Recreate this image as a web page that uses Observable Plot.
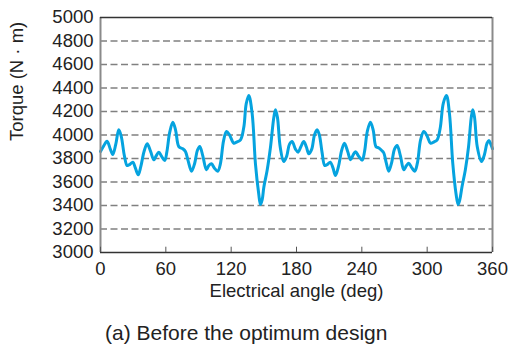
<!DOCTYPE html>
<html><head><meta charset="utf-8">
<script src="https://cdn.jsdelivr.net/npm/d3@7"></script>
<script src="https://cdn.jsdelivr.net/npm/@observablehq/plot@0.6"></script>
<style>
body{margin:0;background:#fff;font-family:"Liberation Sans",Arial,Helvetica,sans-serif;}
#wrap{position:relative;width:509px;height:347px;overflow:hidden;}
#cap{position:absolute;left:105px;top:322px;font-size:21px;color:#222;line-height:1;white-space:nowrap;}
</style>
</head><body>
<div id="wrap"><div id="chart"></div><div id="cap">(a) Before the optimum design</div></div>
<script>
const angle = [0,2.5,6,9,11.3,14,16.8,19,22,24.5,27,29.7,32,34.6,37,40,42.9,46,49,51,53.6,56,59,61,63.5,66.4,69,72,75.6,78,80.5,83.6,86.5,89,91.2,94,97.3,99.5,101.9,104.5,107.7,110,113,115.7,118.5,122.4,125,128.6,131.6,133.8,136.2,139.3,142.3,145.3,146.9,148.5,150,153,156.1,159.2,160.7,162.5,165,168.3,171,173.5,176,179,181.5,184,186.7,189,191.3,194,196.5,198.9,201,203.5,206,208.5,211,213.5,215.8,218.5,221.5,224,227,229.6,232,234.2,237,240.3,242.5,245,247.9,250.5,253,255.6,258,260,262.5,264.7,267.5,270,272.4,275.5,278.5,281,283.1,286,288.6,291,294,296.9,300,303,306,309.2,312,314.8,317.7,320.5,323.5,326.5,328.4,330,332,335,338,340.5,341.9,343.5,346,349.9,352.5,355,356.7,358.5,360];
const torque = [3860,3900,3947,3880,3834,3920,4044,3990,3820,3740,3750,3769,3720,3661,3730,3860,3925,3860,3789,3820,3854,3820,3783,3860,4020,4109,4040,3900,3883,3860,3780,3692,3760,3870,3902,3820,3704,3740,3755,3720,3692,3750,3950,4030,4000,3930,3940,3959,4066,4265,4336,4180,3755,3500,3409,3450,3556,3698,3896,4151,4214,4150,3900,3774,3820,3920,3945,3880,3854,3900,3945,3900,3840,3880,4000,4044,4000,3850,3740,3750,3769,3720,3655,3730,3870,3930,3860,3789,3830,3858,3820,3786,3860,4030,4109,4040,3900,3890,3870,3850,3760,3692,3770,3880,3911,3820,3704,3740,3760,3720,3692,3760,3960,4030,3990,3930,3940,3959,4060,4270,4336,4180,3760,3500,3409,3450,3560,3700,3900,4150,4214,4150,3900,3774,3830,3930,3953,3920,3883];
const xTicks = [0,60,120,180,240,300,360];
const yTicks = [3000,3200,3400,3600,3800,4000,4200,4400,4600,4800,5000];
const xLabel = "Electrical angle (deg)";
const yLabel = "Torque (N · m)";

const data = angle.map((a, i) => ({a, t: torque[i]}));
const font = '"Liberation Sans", Arial, Helvetica, sans-serif';
const fs = 18.5;

const chart = Plot.plot({
  width: 509, height: 313,
  marginLeft: 100, marginRight: 17, marginTop: 17, marginBottom: 61,
  style: {fontFamily: font, fontSize: fs + "px", color: "#222", background: "#fff", overflow: "visible"},
  x: {domain: [0, 360]},
  y: {domain: [3000, 5000]},
  marks: [
    Plot.ruleY(yTicks.slice(1, -1), {stroke: "#808080", strokeWidth: 1.3, strokeDasharray: "7,3.5"}),
    Plot.line(data, {x: "a", y: "t", curve: "catmull-rom", stroke: "#05a3df", strokeWidth: 3}),
    Plot.ruleX([0, 360], {stroke: "#8a8a8a", strokeWidth: 2}),
    Plot.ruleY([3000, 5000], {stroke: "#333", strokeWidth: 1.5}),
    Plot.ruleX(xTicks, {x: d => d, y1: 3000, y2: 3045, stroke: "#555", strokeWidth: 1}),
    Plot.axisX({ticks: xTicks, tickSize: 0, tickPadding: 9, tickFormat: d => String(d), label: null, fill: "#222", fontSize: fs}),
    Plot.axisY({ticks: yTicks, tickSize: 0, tickPadding: 7, tickFormat: d => String(d), label: null, fill: "#222", fontSize: fs}),
    Plot.text([xLabel], {text: d => d, frameAnchor: "bottom", dy: 44.5, fill: "#222", fontSize: fs}),
    Plot.text([yLabel], {text: d => d, frameAnchor: "left", dx: -83, dy: 6, rotate: -90, fill: "#222", fontSize: fs})
  ]
});
document.getElementById("chart").appendChild(chart);
</script>
</body></html>
